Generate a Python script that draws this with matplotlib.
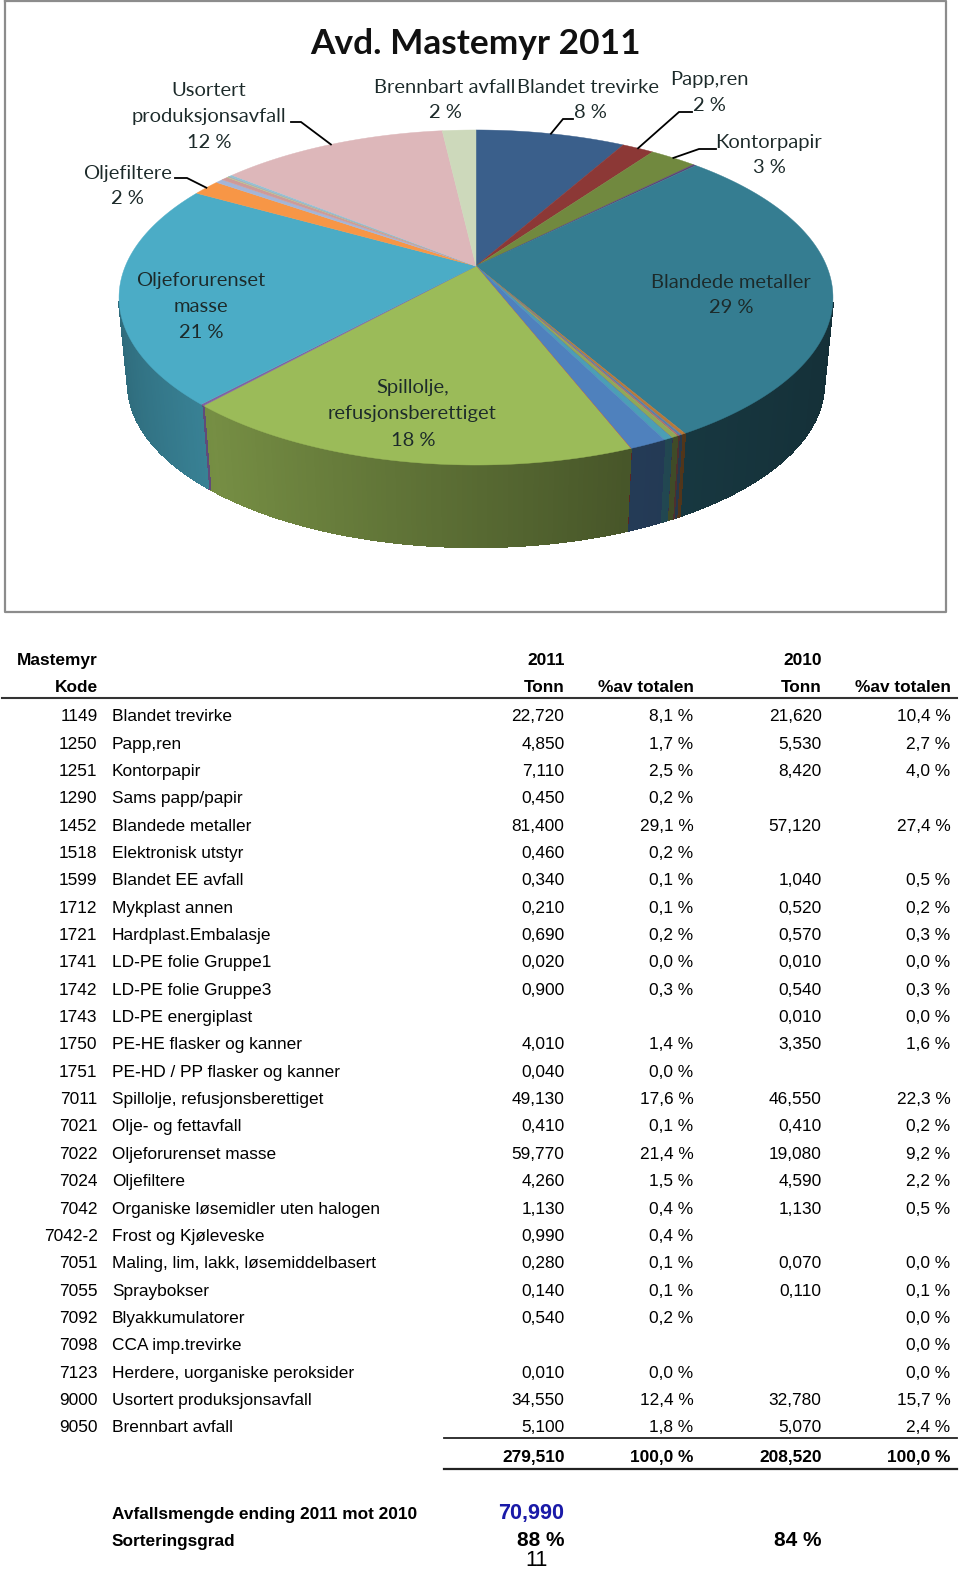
import numpy as np
import matplotlib
matplotlib.use('Agg')
import matplotlib.pyplot as plt

plt.rcParams['text.hinting'] = 'native'

# Table rows, same order as the report
codes = ['1149', '1250', '1251', '1290', '1452', '1518', '1599', '1712', '1721', '1741', '1742', '1743', '1750',
         '1751', '7011', '7021', '7022', '7024', '7042', '7042-2', '7051', '7055', '7092', '7098', '7123', '9000', '9050']
names = ['Blandet trevirke', 'Papp,ren', 'Kontorpapir', 'Sams papp/papir', 'Blandede metaller', 'Elektronisk utstyr',
         'Blandet EE avfall', 'Mykplast annen', 'Hardplast.Embalasje', 'LD-PE folie Gruppe1', 'LD-PE folie Gruppe3',
         'LD-PE energiplast', 'PE-HE flasker og kanner', 'PE-HD / PP flasker og kanner', 'Spillolje, refusjonsberettiget',
         'Olje- og fettavfall', 'Oljeforurenset masse', 'Oljefiltere', 'Organiske løsemidler uten halogen',
         'Frost og Kjøleveske', 'Maling, lim, lakk, løsemiddelbasert', 'Spraybokser', 'Blyakkumulatorer', 'CCA imp.trevirke',
         'Herdere, uorganiske peroksider', 'Usortert produksjonsavfall', 'Brennbart avfall']
tonn_2011 = ['22,720', '4,850', '7,110', '0,450', '81,400', '0,460', '0,340', '0,210', '0,690', '0,020', '0,900', '',
             '4,010', '0,040', '49,130', '0,410', '59,770', '4,260', '1,130', '0,990', '0,280', '0,140', '0,540', '',
             '0,010', '34,550', '5,100']
pct_2011 = ['8,1 %', '1,7 %', '2,5 %', '0,2 %', '29,1 %', '0,2 %', '0,1 %', '0,1 %', '0,2 %', '0,0 %', '0,3 %', '',
            '1,4 %', '0,0 %', '17,6 %', '0,1 %', '21,4 %', '1,5 %', '0,4 %', '0,4 %', '0,1 %', '0,1 %', '0,2 %', '',
            '0,0 %', '12,4 %', '1,8 %']
tonn_2010 = ['21,620', '5,530', '8,420', '', '57,120', '', '1,040', '0,520', '0,570', '0,010', '0,540', '0,010',
             '3,350', '', '46,550', '0,410', '19,080', '4,590', '1,130', '', '0,070', '0,110', '', '', '', '32,780', '5,070']
pct_2010 = ['10,4 %', '2,7 %', '4,0 %', '', '27,4 %', '', '0,5 %', '0,2 %', '0,3 %', '0,0 %', '0,3 %', '0,0 %',
            '1,6 %', '', '22,3 %', '0,2 %', '9,2 %', '2,2 %', '0,5 %', '', '0,0 %', '0,1 %', '0,0 %', '0,0 %', '0,0 %',
            '15,7 %', '2,4 %']
totals = ['279,510', '100,0 %', '208,520', '100,0 %']

slice_colors = ['#3A5F8B', '#8C3836', '#71893F', '#5C4776', '#357D91', '#B8793A', '#5A7FA8', '#B06A68', '#8FA858',
                '#7A6B9A', '#4B9FB5', '#C97F40', '#4F81BD', '#C0504D', '#9BBB59', '#8064A2', '#4BACC6', '#F79646',
                '#A3B5D8', '#CF9A98', '#B5C990', '#A99BC0', '#93C3D2', '#F9AA6A', '#B5C8E2', '#DDB7BA', '#CDD9BB']

# Perspective of the pie, in picture pixels
CX, CY = 476, 266
RX, RY, K = 350.6, 161.6, 0.188
BOTTOM_SCALE, BOTTOM_Y = 0.975, 353


def num(s):
    return float(s.replace(',', '.')) if s else 0.0


def project(theta, scale=1.0, cy=CY):
    # theta runs clockwise from the top of the pie
    u, v = np.sin(theta), -np.cos(theta)
    w = 1 - K * v
    return CX + scale * RX * u / w, cy + scale * RY * v / w


def wall_shade(theta):
    return np.interp(np.sin(theta), [-1, -0.65, 0.35, 1], [0.62, 0.76, 0.46, 0.38])


def darker(color, f):
    return tuple(c * f for c in matplotlib.colors.to_rgb(color))


fig = plt.figure(figsize=(9.6, 15.7), dpi=100)
ax = fig.add_axes([0, 0, 1, 1])
ax.set_xlim(0, 960)
ax.set_ylim(1570, 0)
ax.axis('off')

# Chart frame
ax.plot([4.5, 945.5, 945.5, 4.5, 4.5], [1, 1, 612, 612, 1], color='#8c8c8c', lw=1.6, clip_on=False)

values = np.array([num(t) for t in tonn_2011])
edges = 2 * np.pi * np.concatenate([[0], np.cumsum(values)]) / values.sum()

# Side wall first, the top face goes over it
for i in range(len(values)):
    if values[i] == 0:
        continue
    n = max(2, int((edges[i + 1] - edges[i]) / 0.012))
    th = np.linspace(edges[i], edges[i + 1], n + 1)
    for a, b in zip(th[:-1], th[1:]):
        if -np.cos(a) < 0.22 and -np.cos(b) < 0.22:
            continue
        xt, yt = project(np.array([a, b]))
        xb, yb = project(np.array([b, a]), BOTTOM_SCALE, BOTTOM_Y)
        col = darker(slice_colors[i], wall_shade((a + b) / 2))
        ax.fill(np.r_[xt, xb], np.r_[yt, yb], facecolor=col, edgecolor=col, lw=0.9, antialiased=False)

for i in range(len(values)):
    if values[i] == 0:
        continue
    th = np.linspace(edges[i], edges[i + 1], max(3, int((edges[i + 1] - edges[i]) / 0.01)))
    x, y = project(th)
    ax.fill(np.r_[CX, x], np.r_[CY, y], color=slice_colors[i], lw=0.3)

ax.text(475, 44, 'Avd. Mastemyr 2011', ha='center', va='center', fontsize=25.4, fontweight='bold',
        family='Lato', color='#111111')

chart_labels = [('Usortert', 209, 89), ('produksjonsavfall', 209, 115), ('12 %', 209, 141),
                ('Brennbart avfall', 445, 86), ('2 %', 445, 111),
                ('Blandet trevirke', 588, 86), ('8 %', 590, 111),
                ('Papp,ren', 709, 78), ('2 %', 709, 104),
                ('Kontorpapir', 769, 141), ('3 %', 769, 166),
                ('Oljefiltere', 127, 172), ('2 %', 127, 197),
                ('Oljeforurenset', 201, 279), ('masse', 201, 305), ('21 %', 201, 331),
                ('Blandede metaller', 731, 281), ('29 %', 731, 306),
                ('Spillolje,', 413, 386), ('refusjonsberettiget', 412, 412), ('18 %', 413, 439)]
for txt, x, y in chart_labels:
    ax.text(x, y + 7, txt, ha='center', va='baseline', fontsize=14.5, family='Lato', color='#1c2a2a')

# Leader lines: (slice name, label end, elbow)
leaders = [('Kontorpapir', (716, 149), (699, 149)), ('Papp,ren', (692, 112), (679, 112)),
           ('Blandet trevirke', (573, 119), (563, 119)), ('Usortert produksjonsavfall', (291, 122), (301, 122)),
           ('Oljefiltere', (175, 178), (187, 178))]
for name, p0, p1 in leaders:
    i = names.index(name)
    xm, ym = project((edges[i] + edges[i + 1]) / 2)
    ax.plot([p0[0], p1[0], xm], [p0[1], p1[1], ym], color='black', lw=1.3, solid_joinstyle='miter')

# Table
FONT = 'Liberation Sans'
FS = 12.4
COL_X = [564.5, 693.5, 821.5, 950.5]
ROW0, ROW_H = 715, 27.35


def cell(x, y, s, ha='left', weight='normal', size=FS, color='black'):
    ax.text(x, y + 0.5 * size, s, ha=ha, va='baseline', family=FONT, fontsize=size, fontweight=weight, color=color,
            clip_on=True)


cell(17, 659, 'Mastemyr', weight='bold')
cell(COL_X[0], 659, '2011', 'right', 'bold')
cell(COL_X[2], 659, '2010', 'right', 'bold')
cell(97.5, 686, 'Kode', 'right', 'bold')
for x, s in zip(COL_X, ['Tonn', '%av totalen', 'Tonn', '%av totalen']):
    cell(x, 686, s, 'right', 'bold')
ax.plot([2, 957], [697.5, 697.5], color='#333333', lw=1.5)

for i in range(len(codes)):
    y = ROW0 + i * ROW_H
    cell(97.5, y, codes[i], 'right')
    cell(112, y, names[i])
    for x, s in zip(COL_X, [tonn_2011[i], pct_2011[i], tonn_2010[i], pct_2010[i]]):
        cell(x, y, s, 'right')

ax.plot([444, 957], [1438, 1438], color='#222222', lw=1.3)
for x, s in zip(COL_X, totals):
    cell(x, 1456, s, 'right', 'bold')
ax.plot([444, 957], [1468.5, 1468.5], color='#222222', lw=1.6)

cell(112, 1513, 'Avfallsmengde ending 2011 mot 2010', weight='bold')
cell(564.5, 1511, '70,990', 'right', 'bold', 15.6, '#1a1aa8')
cell(112, 1540, 'Sorteringsgrad', weight='bold')
cell(564.5, 1538, '88 %', 'right', 'bold', 15)
cell(821.5, 1538, '84 %', 'right', 'bold', 15)
cell(537, 1558, '11', 'center', size=15.5)

fig.savefig('out.png', dpi=100)
